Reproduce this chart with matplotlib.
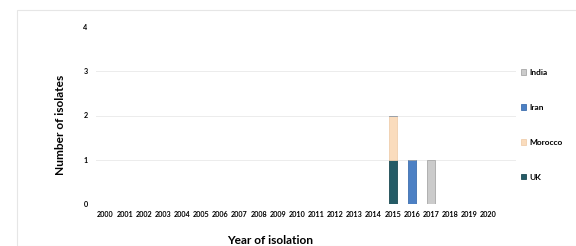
import numpy as np
import matplotlib.pyplot as plt
from matplotlib.patches import Rectangle

plt.rcParams['font.family'] = ['Lato', 'DejaVu Sans']

years = list(range(2000, 2021))
uk = [0] * 15 + [1, 0, 0, 0, 0, 0]
morocco = [0] * 15 + [1, 0, 0, 0, 0, 0]
iran = [0] * 16 + [1, 0, 0, 0, 0]
india = [0] * 17 + [1, 0, 0, 0]

colors = {'UK': '#245b66', 'Morocco': '#fadcbd', 'Iran': '#4c80c4', 'India': '#cbcbcb'}
edges = {'UK': '#1d4a53', 'Morocco': '#f0cfae', 'Iran': '#3f6fae', 'India': '#a8a8a8'}

W, H = 576, 246
fig = plt.figure(figsize=(W / 100, H / 100), dpi=100)
fig.patches.append(Rectangle((17 / W, 0), 1, 1 - 10 / H, transform=fig.transFigure,
                             fill=False, edgecolor='#e6e6e6', linewidth=0.8))
ax = fig.add_axes([96 / W, 1 - 204 / H, (516 - 96) / W, (204 - 27) / H])

x = np.array(years)
w = 0.4
bottom = np.zeros(len(years))
handles = {}
for name, vals in [('UK', uk), ('Morocco', morocco), ('Iran', iran), ('India', india)]:
    v = np.array(vals, dtype=float)
    handles[name] = ax.bar(x, v, w, bottom=bottom, color=colors[name],
                           edgecolor=edges[name], linewidth=0.6, zorder=3)
    bottom += v

ax.set_ylim(0, 4)
ax.set_xlim(1999.5, 2021.44)
ax.set_yticks([0, 1, 2, 3, 4])
ax.set_xticks(years)
ax.set_xticklabels([str(y) for y in years], fontsize=5.2, fontweight='bold')
ax.set_yticklabels(['0', '1', '2', '3', '4'], fontsize=5.2, fontweight='bold')
ax.tick_params(length=0, pad=6)
ax.tick_params(axis='x', pad=5)
for s in ax.spines.values():
    s.set_visible(False)
for yv in [1, 2, 3]:
    ax.axhline(yv, color='#ececec', linewidth=0.7, zorder=1)

fig.text(60 / W, 1 - 125 / H, 'Number of isolates', rotation=90, ha='center', va='center',
         fontsize=8.6, fontweight='bold')
fig.text(270 / W, 1 - 240 / H, 'Year of isolation', ha='center', va='center',
         fontsize=8.6, fontweight='bold')

order = ['India', 'Iran', 'Morocco', 'UK']
fig.legend([handles[n] for n in order], order, loc='upper left',
           bbox_to_anchor=(521 / W, 1 - 69 / H), frameon=False,
           prop={'size': 6, 'weight': 'bold'}, handlelength=0.6, handleheight=0.6,
           handletextpad=0.4, labelspacing=3.35, borderaxespad=0, borderpad=0)

fig.savefig('out.png', dpi=100)
